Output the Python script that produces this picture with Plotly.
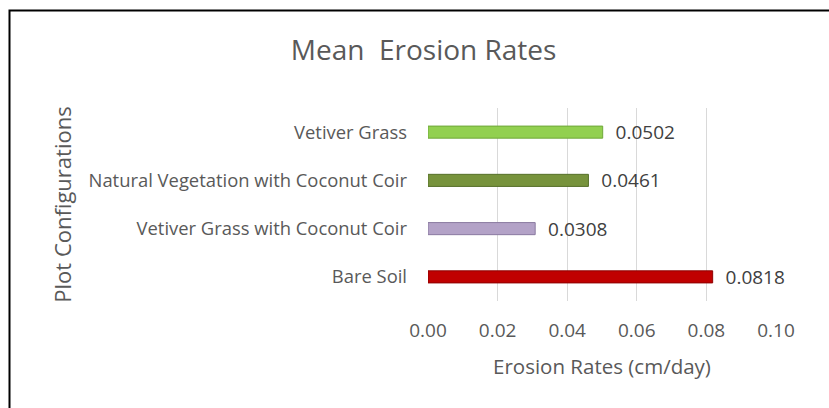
import plotly.graph_objects as go

categories = ["Bare Soil", "Vetiver Grass with Coconut Coir",
              "Natural Vegetation with Coconut Coir", "Vetiver Grass"]
values = [0.0818, 0.0308, 0.0461, 0.0502]
labels = ["0.0818", "0.0308", "0.0461", "0.0502"]
colors = ["#C00000", "#B3A2C7", "#77933C", "#92D050"]
edge_colors = ["#8E0000", "#8A7AA0", "#56702A", "#6FA83A"]
x_ticks = [0.0, 0.02, 0.04, 0.06, 0.08, 0.10]
x_ticktext = ["0.00", "0.02", "0.04", "0.06", "0.08", "0.10"]

W, H = 829, 408
L, R, T, B = 428, 53, 108, 107
pw, ph = W - L - R, H - T - B

FONT = "Open Sans"
GREY = "#595959"

fig = go.Figure(go.Bar(
    y=categories, x=values, orientation="h",
    marker=dict(color=colors, line=dict(color=edge_colors, width=1)),
    width=0.25,
    text=labels, texttemplate="\u00a0\u00a0%{text}",
    textposition="outside", cliponaxis=False,
    constraintext="none",
    textfont=dict(family=FONT, size=19, color="#404040"),
))

fig.update_layout(
    width=W, height=H,
    margin=dict(l=L, r=R, t=T, b=B, pad=0),
    paper_bgcolor="white", plot_bgcolor="white",
    showlegend=False,
    title=dict(text="Mean  Erosion Rates", x=0.511, xanchor="center",
               y=1 - 50 / H, yanchor="middle", yref="container",
               font=dict(family=FONT, size=28, color=GREY)),
    xaxis=dict(range=[0, 0.10], tickvals=x_ticks, ticktext=x_ticktext,
               showgrid=True, gridcolor="#D9D9D9", gridwidth=1,
               zeroline=False, showline=False, ticks="",
               ticklabelstandoff=16,
               tickfont=dict(family=FONT, size=19, color=GREY),
               title=dict(text="Erosion Rates (cm/day)", standoff=17,
                          font=dict(family=FONT, size=20.5, color=GREY))),
    yaxis=dict(showgrid=False, zeroline=False, showline=False, ticks="",
               ticklabelstandoff=20, range=[-0.5, 3.5],
               tickfont=dict(family=FONT, size=18.4, color=GREY),
               title=dict(text="Plot Configurations", standoff=10,
                          font=dict(family=FONT, size=22, color=GREY))),
    bargap=0.75,
)

# outer chart border
fig.add_shape(type="rect", xref="paper", yref="paper",
              x0=(9.5 - L) / pw, x1=2.0,
              y0=-2.0, y1=1 + (T - 10.5) / ph,
              line=dict(color="black", width=2), fillcolor="rgba(0,0,0,0)",
              layer="below")

fig.write_html("out.html", config={"displayModeBar": False},
               post_script="document.body.style.margin='0';")
